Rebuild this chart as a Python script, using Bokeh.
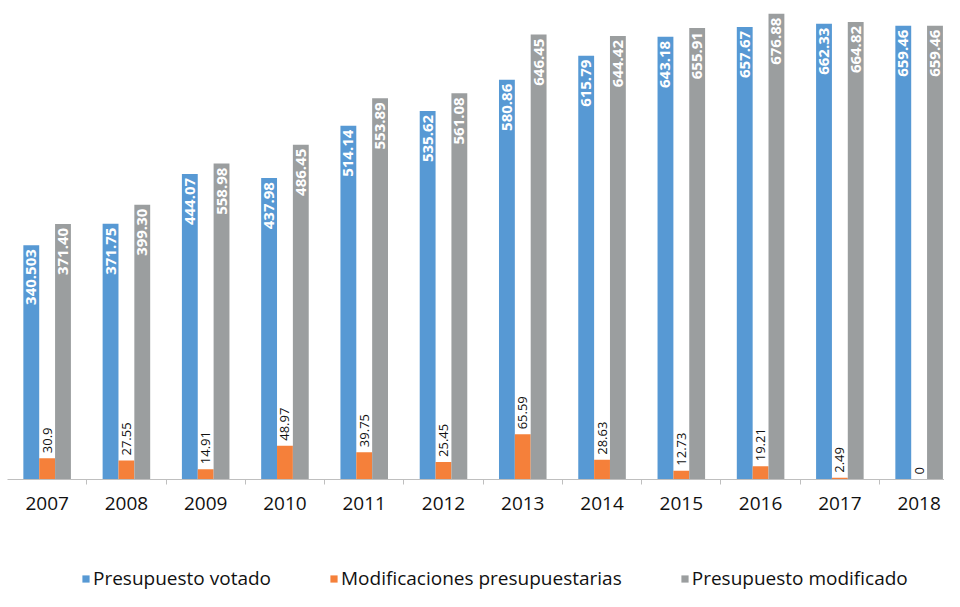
import math
from bokeh.plotting import figure
from bokeh.layouts import column
from bokeh.models import (ColumnDataSource, Range1d, LinearAxis, FixedTicker,
                          Legend, LegendItem)
from bokeh.core.properties import value
from bokeh.transform import dodge
from bokeh.embed import file_html
from bokeh.resources import INLINE

# ---- data ----
years = ["2007", "2008", "2009", "2010", "2011", "2012",
         "2013", "2014", "2015", "2016", "2017", "2018"]

votado = [340.503, 371.75, 444.07, 437.98, 514.14, 535.62,
          580.86, 615.79, 643.18, 657.67, 662.33, 659.46]
votado_labels = ["340.503", "371.75", "444.07", "437.98", "514.14", "535.62",
                 "580.86", "615.79", "643.18", "657.67", "662.33", "659.46"]

modificaciones = [30.9, 27.55, 14.91, 48.97, 39.75, 25.45,
                  65.59, 28.63, 12.73, 19.21, 2.49, 0]
modificaciones_labels = ["30.9", "27.55", "14.91", "48.97", "39.75", "25.45",
                         "65.59", "28.63", "12.73", "19.21", "2.49", "0"]

# bar heights as drawn (2009 bar drawn at 458.98 although labelled 558.98)
modificado = [371.40, 399.30, 458.98, 486.45, 553.89, 561.08,
              646.45, 644.42, 655.91, 676.88, 664.82, 659.46]
modificado_labels = ["371.40", "399.30", "558.98", "486.45", "553.89", "561.08",
                     "646.45", "644.42", "655.91", "676.88", "664.82", "659.46"]

series_names = ["Presupuesto votado", "Modificaciones presupuestarias",
                "Presupuesto modificado"]

BLUE = "#5799D4"
ORANGE = "#F5803A"
GRAY = "#9B9E9F"
FONT = "Open Sans"
colors = [BLUE, ORANGE, GRAY]

xs = list(range(len(years)))
src = ColumnDataSource(dict(
    x=xs, votado=votado, votado_lbl=votado_labels,
    modif=modificaciones, modif_lbl=modificaciones_labels,
    modificado=modificado, modificado_lbl=modificado_labels,
))

p = figure(width=944, height=530, output_backend="svg", toolbar_location=None,
           x_range=Range1d(-0.5, 11.32), y_range=Range1d(0, 696),
           x_axis_location=None, y_axis_location=None,
           min_border_left=7, min_border_right=0, min_border_top=0,
           min_border_bottom=51)
p.outline_line_color = None
p.grid.visible = False
p.background_fill_color = "white"
p.border_fill_color = "white"

p.vbar(x=dodge("x", -0.2), top="votado", width=0.2, source=src,
       fill_color=BLUE, line_color=None)
p.vbar(x=dodge("x", 0.0), top="modif", width=0.2, source=src,
       fill_color=ORANGE, line_color=None)
p.vbar(x=dodge("x", 0.2), top="modificado", width=0.2, source=src,
       fill_color=GRAY, line_color=None)

common = dict(source=src, angle=math.pi / 2, text_baseline="middle",
              text_font=value(FONT))
p.text(x=dodge("x", -0.2), y="votado", text="votado_lbl", text_align="right",
       y_offset=4, text_color="white", text_font_style="bold",
       text_font_size="15px", **common)
p.text(x=dodge("x", 0.2), y="modificado", text="modificado_lbl", text_align="right",
       y_offset=4, text_color="white", text_font_style="bold",
       text_font_size="15px", **common)
p.text(x=dodge("x", 0.0), y="modif", text="modif_lbl", text_align="left",
       y_offset=-5, text_color="#111111", text_font_size="13px", **common)

ax = LinearAxis(ticker=FixedTicker(ticks=xs, minor_ticks=[i + 0.5 for i in xs[:-1]]))
ax.major_label_overrides = {i: y for i, y in zip(xs, years)}
ax.axis_line_color = "#BFBFBF"
ax.major_tick_line_color = None
ax.major_tick_out = 0
ax.major_tick_in = 0
ax.minor_tick_line_color = "#BFBFBF"
ax.minor_tick_out = 5
ax.minor_tick_in = 0
ax.major_label_standoff = 12
ax.major_label_text_font = FONT
ax.major_label_text_font_size = "19px"
ax.major_label_text_color = "#111111"
p.add_layout(ax, "below")

# ---- legend strip (separate figure under the chart) ----
lg = figure(width=944, height=61, output_backend="svg", toolbar_location=None,
            x_range=Range1d(0, 1), y_range=Range1d(0, 1),
            x_axis_location=None, y_axis_location=None, min_border=0)
lg.outline_line_color = None
lg.grid.visible = False
items = []
for name, c in zip(series_names, colors):
    # proxy bar placed outside the visible range: only its legend swatch shows
    r = lg.vbar(x=[-10], top=[0], width=0.1, fill_color=c, line_color=None)
    items.append(LegendItem(label=name, renderers=[r]))
legend = Legend(items=items, orientation="horizontal", location=(74, 0),
                glyph_width=9, glyph_height=9, label_standoff=3, spacing=58,
                padding=0, margin=0, border_line_alpha=0,
                background_fill_alpha=0, label_height=18,
                label_text_font=FONT, label_text_font_size="19px",
                label_text_color="#111111")
lg.add_layout(legend, "center")

layout = column(p, lg, spacing=0)
open("out.html", "w").write(file_html(layout, INLINE))
